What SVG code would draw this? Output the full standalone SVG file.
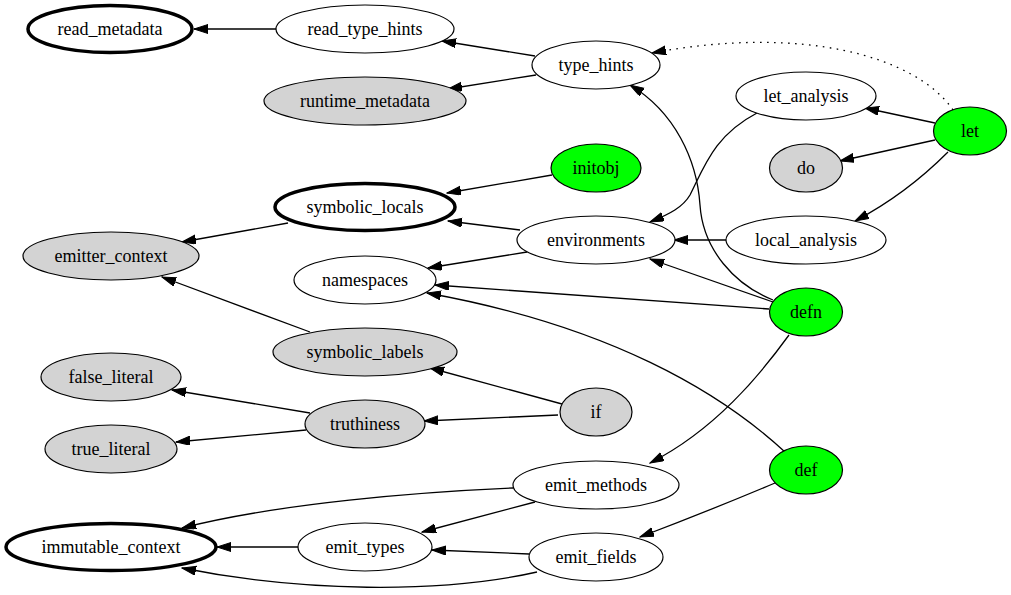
<svg xmlns="http://www.w3.org/2000/svg" width="1011" height="595" viewBox="0 0 1011 595">
<defs>
<marker id="ah" markerUnits="userSpaceOnUse" markerWidth="15" markerHeight="10" refX="14" refY="4.5" orient="auto" viewBox="0 0 15 10">
<path d="M0,0 L14,4.5 L0,9 z" fill="#000" stroke="#000" stroke-width="1"/>
</marker>
</defs>
<rect width="1011" height="595" fill="#fff"/>
<g id="edges" fill="none" stroke="#000" stroke-width="1.3" marker-end="url(#ah)">
<path d="M276,29 L194,29" marker-end="url(#ah)"/>
<path d="M535,56 L442,41" marker-end="url(#ah)"/>
<path d="M536,75 L448,89" marker-end="url(#ah)"/>
<path d="M953,110 C915,55 800,25 652,53" stroke-dasharray="1.6 5.4" marker-end="url(#ah)"/>
<path d="M773,300 C735,285 703,250 700,205 C697,160 675,112 630,85" marker-end="url(#ah)"/>
<path d="M935,123 L865,108" marker-end="url(#ah)"/>
<path d="M935,140 L840,161" marker-end="url(#ah)"/>
<path d="M948,152 C925,175 895,200 855,221" marker-end="url(#ah)"/>
<path d="M757,113 C715,135 705,165 690,195 C683,207 670,214 650,222" marker-end="url(#ah)"/>
<path d="M726,240 L674,240" marker-end="url(#ah)"/>
<path d="M773,302 L650,259" marker-end="url(#ah)"/>
<path d="M769,309 L435,285" marker-end="url(#ah)"/>
<path d="M785,452 C720,392 610,326 427,293" marker-end="url(#ah)"/>
<path d="M789,335 C760,375 715,430 650,463" marker-end="url(#ah)"/>
<path d="M552,175 L447,193" marker-end="url(#ah)"/>
<path d="M520,230 L448,221" marker-end="url(#ah)"/>
<path d="M527,252 L428,268" marker-end="url(#ah)"/>
<path d="M288,223 L182,242" marker-end="url(#ah)"/>
<path d="M310,332 L162,277" marker-end="url(#ah)"/>
<path d="M562,404 L430,368" marker-end="url(#ah)"/>
<path d="M558,415 L424,421" marker-end="url(#ah)"/>
<path d="M310,413 L172,390" marker-end="url(#ah)"/>
<path d="M306,430 L176,442" marker-end="url(#ah)"/>
<path d="M513,488 C420,492 280,503 182,528" marker-end="url(#ah)"/>
<path d="M535,502 L422,532" marker-end="url(#ah)"/>
<path d="M298,547 L217,547" marker-end="url(#ah)"/>
<path d="M529,554 L432,550" marker-end="url(#ah)"/>
<path d="M537,572 C440,594 300,592 182,568" marker-end="url(#ah)"/>
<path d="M775,483 C730,502 690,518 640,537" marker-end="url(#ah)"/>
</g>
<g font-family="Liberation Serif, serif" font-size="18" text-anchor="middle" stroke="#000" stroke-width="1.2">
<g id="read_metadata"><ellipse cx="110" cy="29" rx="82" ry="23.5" fill="#fff" stroke-width="3.5"/><text x="110" y="35" stroke="none">read_metadata</text></g>
<g id="read_type_hints"><ellipse cx="365" cy="29" rx="89" ry="24" fill="#fff"/><text x="365" y="35" stroke="none">read_type_hints</text></g>
<g id="runtime_metadata"><ellipse cx="365" cy="101" rx="101" ry="24" fill="#d3d3d3"/><text x="365" y="107" stroke="none">runtime_metadata</text></g>
<g id="type_hints"><ellipse cx="596" cy="65" rx="64" ry="24" fill="#fff"/><text x="596" y="71" stroke="none">type_hints</text></g>
<g id="let_analysis"><ellipse cx="806" cy="96" rx="70" ry="24" fill="#fff"/><text x="806" y="102" stroke="none">let_analysis</text></g>
<g id="let"><ellipse cx="970" cy="131" rx="36.5" ry="24" fill="#00ff00"/><text x="970" y="137" stroke="none">let</text></g>
<g id="do"><ellipse cx="806" cy="168" rx="36.5" ry="24" fill="#d3d3d3"/><text x="806" y="174" stroke="none">do</text></g>
<g id="initobj"><ellipse cx="596" cy="168" rx="45" ry="24" fill="#00ff00"/><text x="596" y="174" stroke="none">initobj</text></g>
<g id="symbolic_locals"><ellipse cx="365" cy="207" rx="90" ry="23.5" fill="#fff" stroke-width="3.5"/><text x="365" y="213" stroke="none">symbolic_locals</text></g>
<g id="environments"><ellipse cx="596" cy="240" rx="79" ry="24" fill="#fff"/><text x="596" y="246" stroke="none">environments</text></g>
<g id="local_analysis"><ellipse cx="806" cy="240" rx="80" ry="24" fill="#fff"/><text x="806" y="246" stroke="none">local_analysis</text></g>
<g id="emitter_context"><ellipse cx="111" cy="256" rx="88" ry="24" fill="#d3d3d3"/><text x="111" y="262" stroke="none">emitter_context</text></g>
<g id="namespaces"><ellipse cx="365" cy="280" rx="71" ry="24" fill="#fff"/><text x="365" y="286" stroke="none">namespaces</text></g>
<g id="defn"><ellipse cx="806" cy="312" rx="36.5" ry="24" fill="#00ff00"/><text x="806" y="318" stroke="none">defn</text></g>
<g id="symbolic_labels"><ellipse cx="365" cy="352" rx="92" ry="24" fill="#d3d3d3"/><text x="365" y="358" stroke="none">symbolic_labels</text></g>
<g id="false_literal"><ellipse cx="111" cy="377" rx="70" ry="24" fill="#d3d3d3"/><text x="111" y="383" stroke="none">false_literal</text></g>
<g id="truthiness"><ellipse cx="365" cy="424" rx="60" ry="24" fill="#d3d3d3"/><text x="365" y="430" stroke="none">truthiness</text></g>
<g id="if"><ellipse cx="596" cy="412" rx="36" ry="24" fill="#d3d3d3"/><text x="596" y="418" stroke="none">if</text></g>
<g id="true_literal"><ellipse cx="111" cy="449" rx="66" ry="24" fill="#d3d3d3"/><text x="111" y="455" stroke="none">true_literal</text></g>
<g id="def"><ellipse cx="806" cy="470" rx="36.5" ry="24" fill="#00ff00"/><text x="806" y="476" stroke="none">def</text></g>
<g id="emit_methods"><ellipse cx="596" cy="485" rx="83" ry="24" fill="#fff"/><text x="596" y="491" stroke="none">emit_methods</text></g>
<g id="immutable_context"><ellipse cx="111" cy="547" rx="105" ry="23.5" fill="#fff" stroke-width="3.5"/><text x="111" y="553" stroke="none">immutable_context</text></g>
<g id="emit_types"><ellipse cx="365" cy="547" rx="67" ry="24" fill="#fff"/><text x="365" y="553" stroke="none">emit_types</text></g>
<g id="emit_fields"><ellipse cx="596" cy="557" rx="67" ry="24" fill="#fff"/><text x="596" y="563" stroke="none">emit_fields</text></g>
</g>
</svg>
